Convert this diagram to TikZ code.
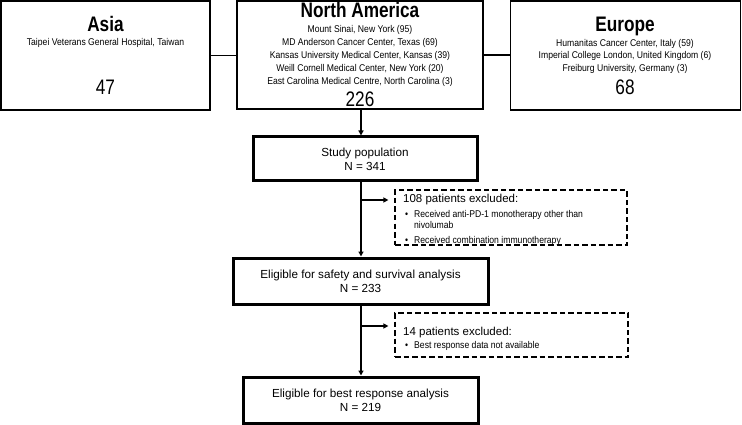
\documentclass[tikz,border=0pt]{standalone}
\usepackage{fontspec}
\setmainfont{Liberation Sans}
\newfontfamily\condfont[FakeStretch=0.82]{Liberation Sans}
\newfontfamily\smfont[FakeStretch=0.88]{Liberation Sans}
\usetikzlibrary{arrows.meta}
\begin{document}
\begin{tikzpicture}[x=1pt,y=-1pt,
  regbox/.style={draw, line width=1.4pt, inner sep=0pt},
  flowbox/.style={draw, line width=3pt, inner sep=0pt, align=center,
     font=\fontsize{11.7}{14}\selectfont},
  exbox/.style={draw, line width=1.2pt, dash pattern=on 5.5pt off 3pt, inner sep=0pt},
  txt/.style={anchor=base, inner sep=0pt},
  ltxt/.style={anchor=base west, inner sep=0pt},
  title/.style={txt, font=\condfont\bfseries\fontsize{21}{24}\selectfont},
  big/.style={txt, font=\condfont\fontsize{21}{24}\selectfont},
  site/.style={txt, font=\smfont\fontsize{9.8}{12}\selectfont},
  exhead/.style={ltxt, font=\fontsize{11.5}{13}\selectfont},
  bul/.style={ltxt, font=\smfont\fontsize{9.8}{12}\selectfont},
  conn/.style={line width=1.3pt},
  arr/.style={line width=1.9pt, -{Triangle[length=5pt,width=5pt]}}]
\useasboundingbox (0,0) rectangle (742,425);

% region boxes
\node[regbox, minimum width=209pt, minimum height=109pt] (asia) at (105.5,55.5) {};
\node[regbox, minimum width=246pt, minimum height=108pt] (na) at (360,55) {};
\node[regbox, minimum width=230pt, minimum height=109pt] (eu) at (625.5,55.5) {};

% Asia text
\node[title] (asiat) at (105.5,32) {Asia};
\node[site] (asia1) at (105.5,46) {Taipei Veterans General Hospital, Taiwan};
\node[big] (asian) at (105.5,95) {47};

% North America text
\node[title] (nat) at (360,18) {North America};
\node[site] (na1) at (360,33) {Mount Sinai, New York (95)};
\node[site] (na2) at (360,46) {MD Anderson Cancer Center, Texas (69)};
\node[site] (na3) at (360,59) {Kansas University Medical Center, Kansas (39)};
\node[site] (na4) at (360,72) {Weill Cornell Medical Center, New York (20)};
\node[site] (na5) at (360,85) {East Carolina Medical Centre, North Carolina (3)};
\node[big] (nan) at (360,107) {226};

% Europe text
\node[title] (eut) at (625,32) {Europe};
\node[site] (eu1) at (625,47) {Humanitas Cancer Center, Italy (59)};
\node[site] (eu2) at (625,59) {Imperial College London, United Kingdom (6)};
\node[site] (eu3) at (625,72) {Freiburg University, Germany (3)};
\node[big] (eun) at (625,95) {68};

% flow boxes
\node[flowbox, minimum width=224pt, minimum height=44pt] (study) at (365,159) {Study population\\N = 341};
\node[flowbox, minimum width=255pt, minimum height=46pt] (safe) at (360.5,281) {Eligible for safety and survival analysis\\N = 233};
\node[flowbox, minimum width=235pt, minimum height=46pt] (best) at (360.5,400) {Eligible for best response analysis\\N = 219};

% exclusion boxes
\node[exbox, minimum width=232pt, minimum height=55pt] (ex1) at (511,217.5) {};
\node[exhead] (ex1h) at (403,203) {108 patients excluded:};
\node[bul] (ex1d1) at (405,217) {\textbullet};
\node[bul] (ex1b1) at (414,217) {Received anti-PD-1 monotherapy other than};
\node[bul] (ex1b1b) at (414,229) {nivolumab};
\node[bul] (ex1d2) at (405,243) {\textbullet};
\node[bul] (ex1b2) at (414,243) {Received combination immunotherapy};

\node[exbox, minimum width=233pt, minimum height=44pt] (ex2) at (511.5,335) {};
\node[exhead] (ex2h) at (403,335) {14 patients excluded:};
\node[bul] (ex2d1) at (405,348) {\textbullet};
\node[bul] (ex2b1) at (414,348) {Best response data not available};

% connectors
\coordinate (sp) at (361,0);
\coordinate (j1) at (361,200);
\coordinate (j2) at (361,326);
\draw[conn] (asia.east) -- (asia.east -| na.west);
\draw[conn] (na.east) -- (na.east -| eu.west);
\draw[arr] (na.south -| sp) -- (study.north -| sp);
\draw[arr] (study.south -| sp) -- (safe.north -| sp);
\draw[arr] (safe.south -| sp) -- (best.north -| sp);
\draw[arr] (j1) -- ([xshift=-6pt]ex1.west |- j1);
\draw[arr] (j2) -- ([xshift=-6pt]ex2.west |- j2);
\end{tikzpicture}
\end{document}
